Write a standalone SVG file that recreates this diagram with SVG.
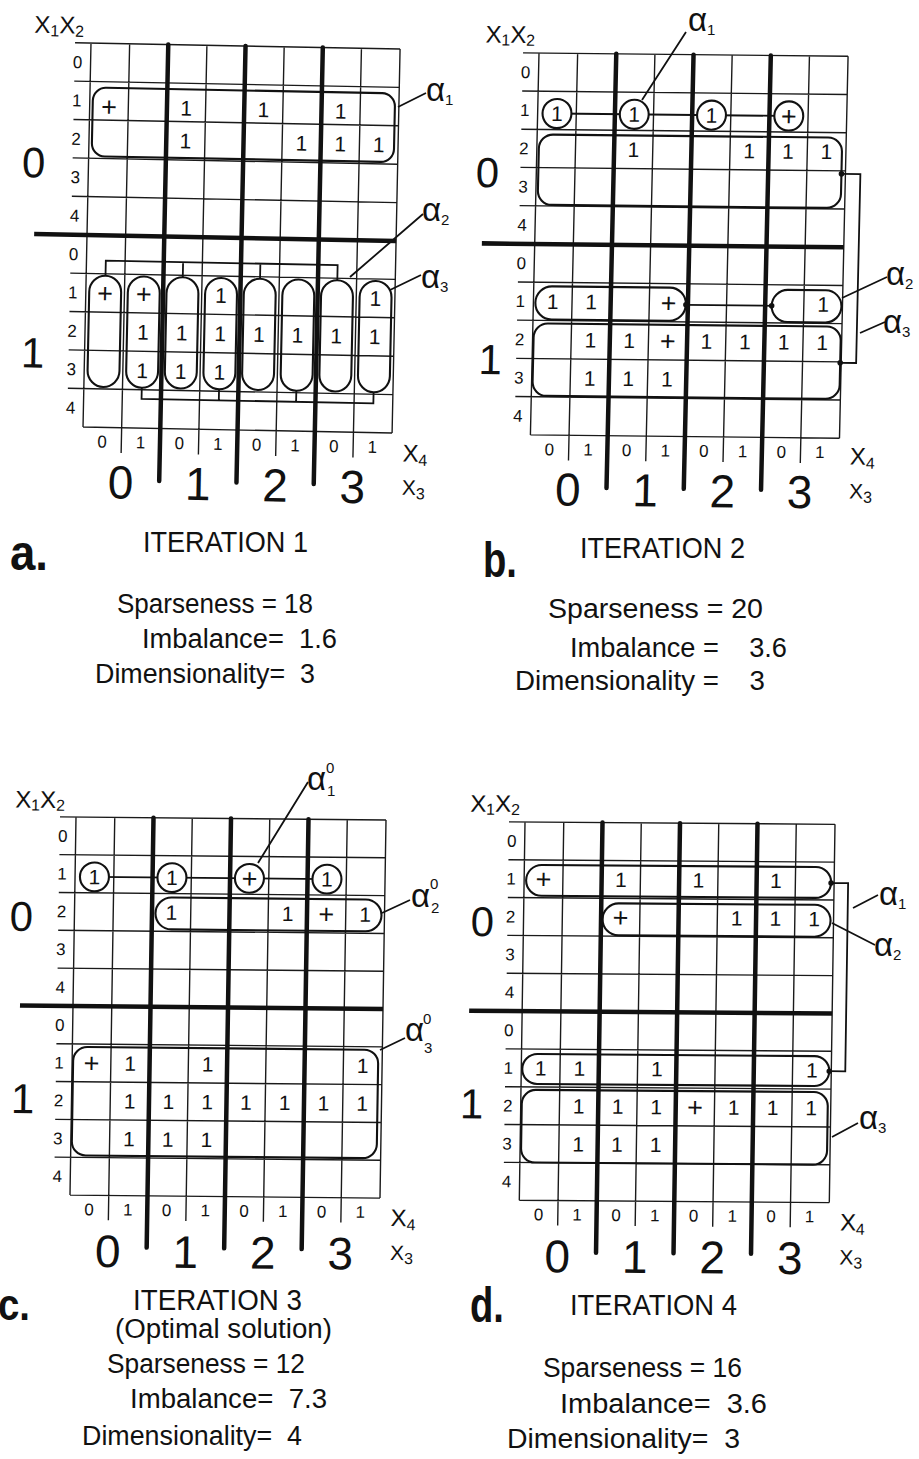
<svg xmlns="http://www.w3.org/2000/svg" width="919" height="1459" viewBox="0 0 919 1459">
<style>
.g{stroke:#1a1a1a;stroke-width:1.4;fill:none}
.tk{stroke:#111;stroke-width:4.5;stroke-linecap:round;fill:none}
.tkh{stroke:#111;stroke-width:4.5;fill:none}
.lp{stroke:#111;stroke-width:2.1;fill:none}
.ci{stroke:#111;stroke-width:2.1;fill:#fff}
.cn{stroke:#111;stroke-width:1.8;fill:none}
.dot{fill:#111}
text{font-family:"Liberation Sans",Arial,sans-serif;fill:#111}
.rl{font-size:17px;text-anchor:middle}
.mk{font-size:21px;text-anchor:middle}
.pl{font-size:27px;text-anchor:middle}
.big{font-size:46px;text-anchor:middle}
.x1{font-size:42px;text-anchor:middle}
.xl{font-size:24px}
.xl3{font-size:21px}
.sb{font-size:16px}
.al{font-size:33px}
.as{font-size:15px}
.cap{font-size:27px}
.it{font-size:29px}
.lbl{font-size:50px;font-weight:bold}
</style>
<defs>
<g id="grid">
<path class="g" d="M-16 0H310M-16 38H310M-16 76H310M-16 114H310M-16 152H310M-16 228H310M-16 266H310M-16 304H310M-16 342H310M0 380H310M0 0V380M38.75 0V405M116.25 0V405M193.75 0V405M271.25 0V405M310 0V380"/>
<path class="tk" d="M77.5 0V432M155 0V432M232.5 0V432"/>
<path class="tkh" d="M-53 190H310"/>
</g>
</defs>
<rect width="919" height="1459" fill="#fff"/>

<!-- PANEL A -->
<g id="panel-a" transform="matrix(0.997 0.0194 -0.021 1.0105 91 43)">
<use href="#grid"/>
<g id="a-axes">
<text class="xl" x="-57" y="-9">X<tspan class="sb" dy="3">1</tspan><tspan dy="-3">X</tspan><tspan class="sb" dy="3">2</tspan></text>
<text class="rl" x="-13" y="25">0</text><text class="rl" x="-13" y="63">1</text><text class="rl" x="-13" y="101">2</text><text class="rl" x="-13" y="139">3</text><text class="rl" x="-13" y="177">4</text>
<text class="rl" x="-13" y="215">0</text><text class="rl" x="-13" y="253">1</text><text class="rl" x="-13" y="291">2</text><text class="rl" x="-13" y="329">3</text><text class="rl" x="-13" y="367">4</text>
<text class="x1" x="-55" y="134">0</text><text class="x1" x="-52" y="322">1</text>
<text class="rl" x="19.4" y="400">0</text><text class="rl" x="58.1" y="400">1</text><text class="rl" x="96.9" y="400">0</text><text class="rl" x="135.6" y="400">1</text><text class="rl" x="174.4" y="400">0</text><text class="rl" x="213.1" y="400">1</text><text class="rl" x="251.9" y="400">0</text><text class="rl" x="290.6" y="400">1</text>
<text class="xl" x="321" y="408">X<tspan class="sb" dy="4">4</tspan></text>
<text class="xl3" x="321" y="441">X<tspan class="sb" dy="4">3</tspan></text>
<text class="big" x="38.75" y="450">0</text><text class="big" x="116.25" y="450">1</text><text class="big" x="193.75" y="450">2</text><text class="big" x="271.25" y="450">3</text>
</g>
<g id="a-alpha1"><rect class="lp" x="3" y="44" width="303" height="68" rx="13"/></g>
<g id="a-pills">
<rect class="lp" x="3.4" y="230" width="32" height="110" rx="16"/>
<rect class="lp" x="42.1" y="230" width="32" height="110" rx="16"/>
<rect class="lp" x="80.9" y="230" width="32" height="110" rx="16"/>
<rect class="lp" x="119.6" y="230" width="32" height="110" rx="16"/>
<rect class="lp" x="158.4" y="230" width="32" height="110" rx="16"/>
<rect class="lp" x="197.1" y="230" width="32" height="110" rx="16"/>
<rect class="lp" x="235.9" y="230" width="32" height="110" rx="16"/>
<rect class="lp" x="274.6" y="230" width="32" height="110" rx="16"/>
</g>
<g id="a-cells">
<text class="pl" x="19.4" y="72">+</text><text class="mk" x="96.9" y="70">1</text><text class="mk" x="174.4" y="70">1</text><text class="mk" x="251.9" y="70">1</text>
<text class="mk" x="96.9" y="102.5">1</text><text class="mk" x="213.1" y="102.5">1</text><text class="mk" x="251.9" y="102.5">1</text><text class="mk" x="290.6" y="102.5">1</text>
<text class="pl" x="19.4" y="256.5">+</text><text class="pl" x="58.1" y="256.5">+</text><text class="mk" x="135.6" y="254.5">1</text><text class="mk" x="290.6" y="254.5">1</text>
<text class="mk" x="58.1" y="292.5">1</text><text class="mk" x="96.9" y="292.5">1</text><text class="mk" x="135.6" y="292.5">1</text><text class="mk" x="174.4" y="292.5">1</text><text class="mk" x="213.1" y="292.5">1</text><text class="mk" x="251.9" y="292.5">1</text><text class="mk" x="290.6" y="292.5">1</text>
<text class="mk" x="58.1" y="330.5">1</text><text class="mk" x="96.9" y="330.5">1</text><text class="mk" x="135.6" y="330.5">1</text>
</g>
</g>

<!-- PANEL B -->
<g id="panel-b" transform="matrix(0.997 0.0107 -0.0226 1.005 539 53)">
<use href="#grid"/>
<g id="b-axes">
<text class="xl" x="-54" y="-10">X<tspan class="sb" dy="3">1</tspan><tspan dy="-3">X</tspan><tspan class="sb" dy="3">2</tspan></text>
<text class="rl" x="-13" y="25">0</text><text class="rl" x="-13" y="63">1</text><text class="rl" x="-13" y="101">2</text><text class="rl" x="-13" y="139">3</text><text class="rl" x="-13" y="177">4</text>
<text class="rl" x="-13" y="215">0</text><text class="rl" x="-13" y="253">1</text><text class="rl" x="-13" y="291">2</text><text class="rl" x="-13" y="329">3</text><text class="rl" x="-13" y="367">4</text>
<text class="x1" x="-49" y="134">0</text><text class="x1" x="-42" y="320">1</text>
<text class="rl" x="19.4" y="400">0</text><text class="rl" x="58.1" y="400">1</text><text class="rl" x="96.9" y="400">0</text><text class="rl" x="135.6" y="400">1</text><text class="rl" x="174.4" y="400">0</text><text class="rl" x="213.1" y="400">1</text><text class="rl" x="251.9" y="400">0</text><text class="rl" x="290.6" y="400">1</text>
<text class="xl" x="321" y="406">X<tspan class="sb" dy="4">4</tspan></text>
<text class="xl3" x="321" y="440">X<tspan class="sb" dy="4">3</tspan></text>
<text class="big" x="38.75" y="450">0</text><text class="big" x="116.25" y="450">1</text><text class="big" x="193.75" y="450">2</text><text class="big" x="271.25" y="450">3</text>
</g>
<g id="b-alpha1">
<path class="cn" d="M19.4 60H251.9"/>
<circle class="ci" cx="19.4" cy="60" r="14.5"/><circle class="ci" cx="96.9" cy="60" r="14.5"/><circle class="ci" cx="174.4" cy="60" r="14.5"/><circle class="ci" cx="251.9" cy="60" r="14.5"/>
</g>
<g id="b-alpha3">
<rect class="lp" x="2" y="81" width="304" height="70" rx="14"/>
<rect class="lp" x="1" y="269" width="308" height="72" rx="14"/>
</g>
<g id="b-alpha2">
<rect class="lp" x="2" y="232" width="151" height="33" rx="16.5"/>
<rect class="lp" x="239" y="233" width="70" height="32" rx="16"/>
</g>
<g id="b-cells">
<text class="mk" x="19.4" y="67.5">1</text><text class="mk" x="96.9" y="67.5">1</text><text class="mk" x="174.4" y="67.5">1</text><text class="pl" x="251.9" y="69.5">+</text>
<text class="mk" x="96.9" y="102.5">1</text><text class="mk" x="213.1" y="102.5">1</text><text class="mk" x="251.9" y="102.5">1</text><text class="mk" x="290.6" y="102.5">1</text>
<text class="mk" x="19.4" y="254.5">1</text><text class="mk" x="58.1" y="254.5">1</text><text class="pl" x="135.6" y="256.5">+</text><text class="mk" x="290.6" y="254.5">1</text>
<text class="mk" x="58.1" y="292.5">1</text><text class="mk" x="96.9" y="292.5">1</text><text class="pl" x="135.6" y="294.5">+</text><text class="mk" x="174.4" y="292.5">1</text><text class="mk" x="213.1" y="292.5">1</text><text class="mk" x="251.9" y="292.5">1</text><text class="mk" x="290.6" y="292.5">1</text>
<text class="mk" x="58.1" y="330.5">1</text><text class="mk" x="96.9" y="330.5">1</text><text class="mk" x="135.6" y="330.5">1</text>
</g>
</g>

<!-- PANEL C -->
<g id="panel-c" transform="matrix(1 0.0097 -0.0158 0.995 76 817)">
<use href="#grid"/>
<g id="c-axes">
<text class="xl" x="-61" y="-9">X<tspan class="sb" dy="3">1</tspan><tspan dy="-3">X</tspan><tspan class="sb" dy="3">2</tspan></text>
<text class="rl" x="-13" y="25">0</text><text class="rl" x="-13" y="63">1</text><text class="rl" x="-13" y="101">2</text><text class="rl" x="-13" y="139">3</text><text class="rl" x="-13" y="177">4</text>
<text class="rl" x="-13" y="215">0</text><text class="rl" x="-13" y="253">1</text><text class="rl" x="-13" y="291">2</text><text class="rl" x="-13" y="329">3</text><text class="rl" x="-13" y="367">4</text>
<text class="x1" x="-53" y="115">0</text><text class="x1" x="-49" y="298">1</text>
<text class="rl" x="19.4" y="400">0</text><text class="rl" x="58.1" y="400">1</text><text class="rl" x="96.9" y="400">0</text><text class="rl" x="135.6" y="400">1</text><text class="rl" x="174.4" y="400">0</text><text class="rl" x="213.1" y="400">1</text><text class="rl" x="251.9" y="400">0</text><text class="rl" x="290.6" y="400">1</text>
<text class="xl" x="321" y="408">X<tspan class="sb" dy="4">4</tspan></text>
<text class="xl3" x="321" y="442">X<tspan class="sb" dy="4">3</tspan></text>
<text class="big" x="38.75" y="452">0</text><text class="big" x="116.25" y="452">1</text><text class="big" x="193.75" y="452">2</text><text class="big" x="271.25" y="452">3</text>
</g>
<g id="c-alpha1">
<path class="cn" d="M19.4 60H251.9"/>
<circle class="ci" cx="19.4" cy="60" r="14.5"/><circle class="ci" cx="96.9" cy="60" r="14.5"/><circle class="ci" cx="174.4" cy="60" r="14.5"/><circle class="ci" cx="251.9" cy="60" r="14.5"/>
</g>
<g id="c-alpha2"><rect class="lp" x="81" y="80" width="226" height="32" rx="16"/></g>
<g id="c-alpha3"><rect class="lp" x="1" y="231" width="305" height="109" rx="14"/></g>
<g id="c-cells">
<text class="mk" x="19.4" y="67.5">1</text><text class="mk" x="96.9" y="67.5">1</text><text class="pl" x="174.4" y="69.5">+</text><text class="mk" x="251.9" y="67.5">1</text>
<text class="mk" x="96.9" y="102.5">1</text><text class="mk" x="213.1" y="102.5">1</text><text class="pl" x="251.9" y="104.5">+</text><text class="mk" x="290.6" y="102.5">1</text>
<text class="pl" x="19.4" y="256.5">+</text><text class="mk" x="58.1" y="254.5">1</text><text class="mk" x="135.6" y="254.5">1</text><text class="mk" x="290.6" y="254.5">1</text>
<text class="mk" x="58.1" y="292.5">1</text><text class="mk" x="96.9" y="292.5">1</text><text class="mk" x="135.6" y="292.5">1</text><text class="mk" x="174.4" y="292.5">1</text><text class="mk" x="213.1" y="292.5">1</text><text class="mk" x="251.9" y="292.5">1</text><text class="mk" x="290.6" y="292.5">1</text>
<text class="mk" x="58.1" y="330.5">1</text><text class="mk" x="96.9" y="330.5">1</text><text class="mk" x="135.6" y="330.5">1</text>
</g>
</g>

<!-- PANEL D -->
<g id="panel-d" transform="matrix(1 0.0075 -0.015 0.9955 525 822)">
<use href="#grid"/>
<g id="d-axes">
<text class="xl" x="-55" y="-10">X<tspan class="sb" dy="3">1</tspan><tspan dy="-3">X</tspan><tspan class="sb" dy="3">2</tspan></text>
<text class="rl" x="-13" y="25">0</text><text class="rl" x="-13" y="63">1</text><text class="rl" x="-13" y="101">2</text><text class="rl" x="-13" y="139">3</text><text class="rl" x="-13" y="177">4</text>
<text class="rl" x="-13" y="215">0</text><text class="rl" x="-13" y="253">1</text><text class="rl" x="-13" y="291">2</text><text class="rl" x="-13" y="329">3</text><text class="rl" x="-13" y="367">4</text>
<text class="x1" x="-41" y="115">0</text><text class="x1" x="-49" y="298">1</text>
<text class="rl" x="19.4" y="400">0</text><text class="rl" x="58.1" y="400">1</text><text class="rl" x="96.9" y="400">0</text><text class="rl" x="135.6" y="400">1</text><text class="rl" x="174.4" y="400">0</text><text class="rl" x="213.1" y="400">1</text><text class="rl" x="251.9" y="400">0</text><text class="rl" x="290.6" y="400">1</text>
<text class="xl" x="321" y="408">X<tspan class="sb" dy="4">4</tspan></text>
<text class="xl3" x="321" y="442">X<tspan class="sb" dy="4">3</tspan></text>
<text class="big" x="38.75" y="452">0</text><text class="big" x="116.25" y="452">1</text><text class="big" x="193.75" y="452">2</text><text class="big" x="271.25" y="452">3</text>
</g>
<g id="d-alpha1">
<rect class="lp" x="2" y="43" width="305" height="31" rx="15.5"/>
<rect class="lp" x="1" y="233" width="307" height="30" rx="15"/>
</g>
<g id="d-alpha2"><rect class="lp" x="79" y="81" width="228" height="32" rx="16"/></g>
<g id="d-alpha3"><rect class="lp" x="1" y="269" width="306" height="73" rx="14"/></g>
<g id="d-cells">
<text class="pl" x="19.4" y="66.5">+</text><text class="mk" x="96.9" y="64.5">1</text><text class="mk" x="174.4" y="64.5">1</text><text class="mk" x="251.9" y="64.5">1</text>
<text class="pl" x="96.9" y="104.5">+</text><text class="mk" x="213.1" y="102.5">1</text><text class="mk" x="251.9" y="102.5">1</text><text class="mk" x="290.6" y="102.5">1</text>
<text class="mk" x="19.4" y="254.5">1</text><text class="mk" x="58.1" y="254.5">1</text><text class="mk" x="135.6" y="254.5">1</text><text class="mk" x="290.6" y="254.5">1</text>
<text class="mk" x="58.1" y="292.5">1</text><text class="mk" x="96.9" y="292.5">1</text><text class="mk" x="135.6" y="292.5">1</text><text class="pl" x="174.4" y="294.5">+</text><text class="mk" x="213.1" y="292.5">1</text><text class="mk" x="251.9" y="292.5">1</text><text class="mk" x="290.6" y="292.5">1</text>
<text class="mk" x="58.1" y="330.5">1</text><text class="mk" x="96.9" y="330.5">1</text><text class="mk" x="135.6" y="330.5">1</text>
</g>
</g>

<!-- CONNECTORS -->
<g id="connectors">
<g transform="matrix(0.997 0.0194 -0.021 1.0105 91 43)">
<path class="cn" d="M19.4 230V215H251.9V230M96.9 215V230M174.4 215V230"/>
<path class="cn" d="M58.1 340V351H290.6V340M135.6 340V351M213.1 340V351"/>
</g>
<g transform="matrix(0.997 0.0107 -0.0226 1.005 539 53)">
<path class="cn" d="M306 117H325V305H309"/>
<circle class="dot" cx="306" cy="117" r="2.8"/><circle class="dot" cx="309" cy="305" r="2.8"/>
<path class="cn" d="M153 249H239"/>
<circle class="dot" cx="153" cy="249" r="2.8"/><circle class="dot" cx="239" cy="249" r="2.8"/>
</g>
<g transform="matrix(1 0.0075 -0.015 0.9955 525 822)">
<path class="cn" d="M307 59H324V248H308"/>
<circle class="dot" cx="307" cy="59" r="2.8"/><circle class="dot" cx="308" cy="248" r="2.8"/>
</g>
<path class="cn" d="M398 107L426 93M350 277L423 214M390 290L421 275"/>
<path class="cn" d="M642 100L686 32M842 298L887 277M860 333L885 322"/>
<path class="cn" d="M258 863L308 782M382 913L410 900M380 1050L405 1038"/>
<path class="cn" d="M853 908L878 895M832 923L875 945M832 1137L858 1123"/>
</g>

<!-- ALPHA LABELS -->
<g id="alpha-labels">
<text class="al" x="426" y="101">α<tspan class="as" dy="4">1</tspan></text>
<text class="al" x="422" y="221">α<tspan class="as" dy="4">2</tspan></text>
<text class="al" x="421" y="288">α<tspan class="as" dy="4">3</tspan></text>
<text class="al" x="688" y="31">α<tspan class="as" dy="4">1</tspan></text>
<text class="al" x="886" y="285">α<tspan class="as" dy="4">2</tspan></text>
<text class="al" x="883" y="333">α<tspan class="as" dy="4">3</tspan></text>
<text class="al" x="307" y="790">α<tspan class="as" x="326" y="773">0</tspan><tspan class="as" x="327" y="796">1</tspan></text>
<text class="al" x="411" y="907">α<tspan class="as" x="430" y="889">0</tspan><tspan class="as" x="431" y="913">2</tspan></text>
<text class="al" x="405" y="1041">α<tspan class="as" x="423" y="1024">0</tspan><tspan class="as" x="424" y="1053">3</tspan></text>
<text class="al" x="879" y="905">α<tspan class="as" dy="4">1</tspan></text>
<text class="al" x="874" y="956">α<tspan class="as" dy="4">2</tspan></text>
<text class="al" x="859" y="1129">α<tspan class="as" dy="4">3</tspan></text>
</g>

<!-- CAPTIONS -->
<g id="caption-a">
<text class="lbl" x="10" y="570" textLength="38" lengthAdjust="spacingAndGlyphs">a.</text>
<text class="it" x="143" y="552" textLength="165" lengthAdjust="spacingAndGlyphs">ITERATION 1</text>
<text class="cap" x="117" y="613" textLength="196" lengthAdjust="spacingAndGlyphs">Sparseness = 18</text>
<text class="cap" x="142" y="648" textLength="195" lengthAdjust="spacingAndGlyphs" xml:space="preserve">Imbalance=  1.6</text>
<text class="cap" x="95" y="683" textLength="220" lengthAdjust="spacingAndGlyphs" xml:space="preserve">Dimensionality=  3</text>
</g>
<g id="caption-b">
<text class="lbl" x="483" y="577" textLength="34" lengthAdjust="spacingAndGlyphs">b.</text>
<text class="it" x="580" y="558" textLength="165" lengthAdjust="spacingAndGlyphs">ITERATION 2</text>
<text class="cap" x="548" y="618" textLength="215" lengthAdjust="spacingAndGlyphs">Sparseness = 20</text>
<text class="cap" x="570" y="657" textLength="217" lengthAdjust="spacingAndGlyphs" xml:space="preserve">Imbalance =    3.6</text>
<text class="cap" x="515" y="690" textLength="250" lengthAdjust="spacingAndGlyphs" xml:space="preserve">Dimensionality =    3</text>
</g>
<g id="caption-c">
<text class="lbl" x="-2" y="1320" style="font-size:44px" textLength="32" lengthAdjust="spacingAndGlyphs">c.</text>
<text class="it" x="133" y="1310" textLength="169" lengthAdjust="spacingAndGlyphs">ITERATION 3</text>
<text class="cap" x="115" y="1338" textLength="217" lengthAdjust="spacingAndGlyphs">(Optimal solution)</text>
<text class="cap" x="107" y="1373" textLength="198" lengthAdjust="spacingAndGlyphs">Sparseness = 12</text>
<text class="cap" x="130" y="1408" textLength="197" lengthAdjust="spacingAndGlyphs" xml:space="preserve">Imbalance=  7.3</text>
<text class="cap" x="82" y="1445" textLength="220" lengthAdjust="spacingAndGlyphs" xml:space="preserve">Dimensionality=  4</text>
</g>
<g id="caption-d">
<text class="lbl" x="470" y="1322" textLength="34" lengthAdjust="spacingAndGlyphs">d.</text>
<text class="it" x="570" y="1315" textLength="167" lengthAdjust="spacingAndGlyphs">ITERATION 4</text>
<text class="cap" x="543" y="1377" textLength="199" lengthAdjust="spacingAndGlyphs">Sparseness = 16</text>
<text class="cap" x="560" y="1413" textLength="207" lengthAdjust="spacingAndGlyphs" xml:space="preserve">Imbalance=  3.6</text>
<text class="cap" x="507" y="1448" textLength="233" lengthAdjust="spacingAndGlyphs" xml:space="preserve">Dimensionality=  3</text>
</g>
</svg>
